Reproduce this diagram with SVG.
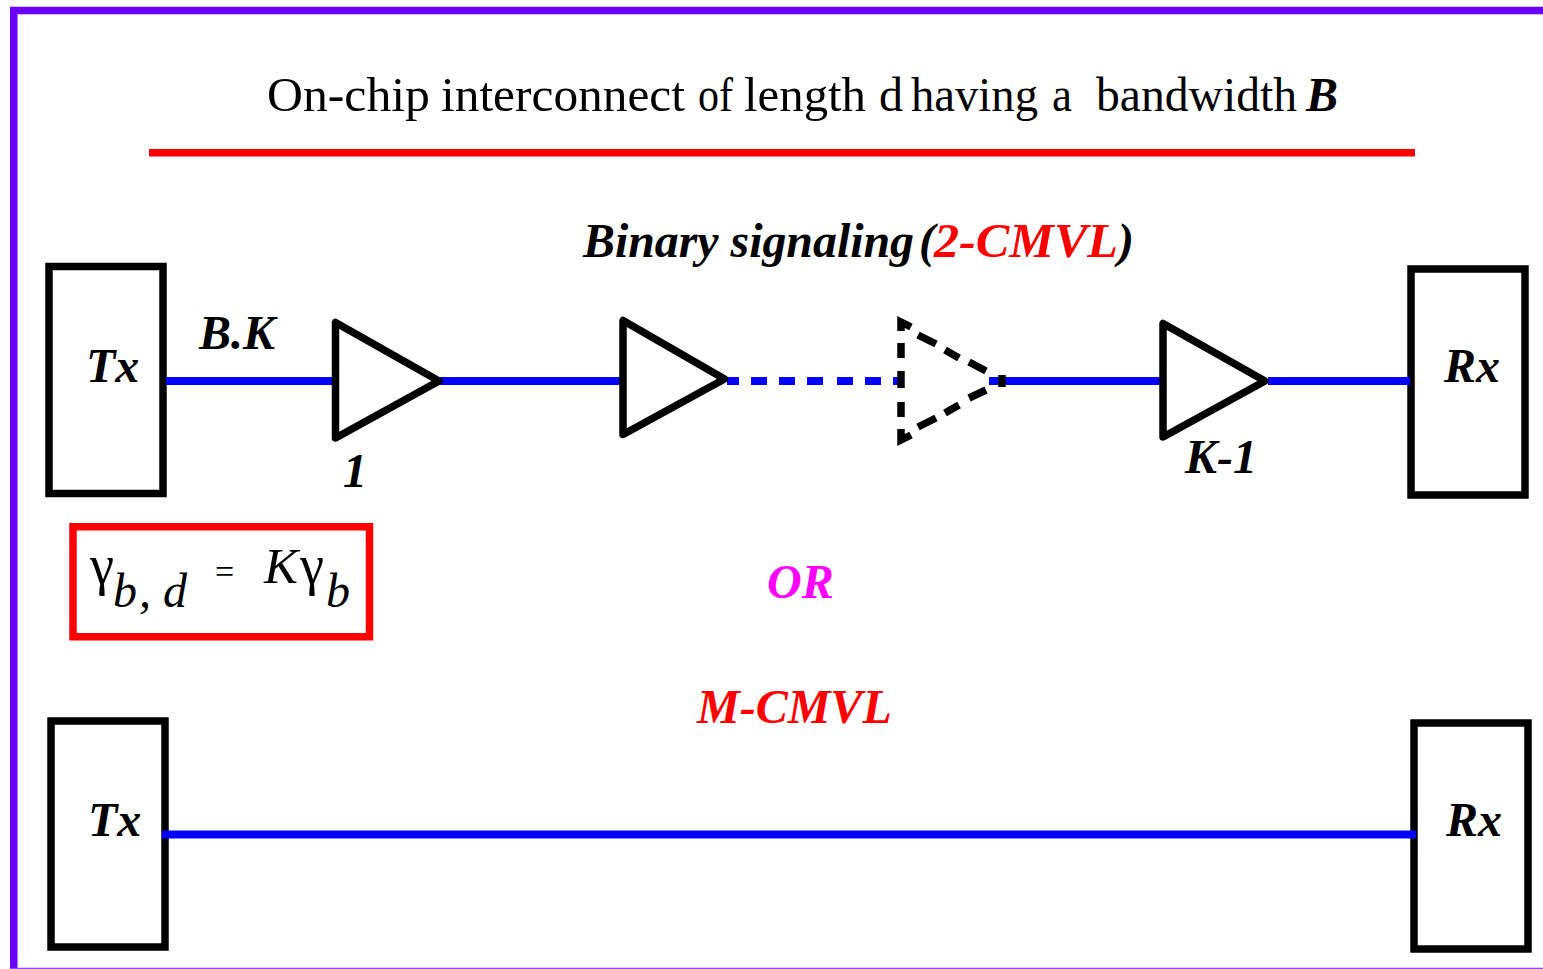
<svg xmlns="http://www.w3.org/2000/svg" width="1543" height="969" viewBox="0 0 1543 969">
<style>
.box{fill:none;stroke:#000;stroke-width:7.500}
.tri{fill:none;stroke:#000;stroke-width:7.500;stroke-linejoin:round}
.dash{fill:none;stroke:#000;stroke-width:7.500}
.w{stroke:#0000ff;stroke-width:8;fill:none}
.t{font-family:"Liberation Serif",serif;font-size:48px;fill:#000}
.b{font-family:"Liberation Serif",serif;font-size:48px;font-style:italic;font-weight:bold;fill:#000}
.e{font-family:"Liberation Serif",serif;font-size:48px;fill:#000}
.g{font-size:56px}
.i{font-style:italic}
.r{fill:#ff0000}
</style>
<rect width="1543" height="969" fill="#fff"/>
<path d="M1543 10.500H13.750V969" fill="none" stroke="#6a00ff" stroke-width="7.500"/>
<path d="M10 968.500H1543" stroke="#8f45ff" stroke-width="1.500"/>
<g id="title">
<text class="t" x="267" y="111" textLength="163" lengthAdjust="spacingAndGlyphs">On-chip</text>
<text class="t" x="441" y="111" textLength="244" lengthAdjust="spacingAndGlyphs">interconnect</text>
<text class="t" x="698" y="111" textLength="35" lengthAdjust="spacingAndGlyphs">of</text>
<text class="t" x="744" y="111" textLength="122" lengthAdjust="spacingAndGlyphs">length</text>
<text class="t" x="879" y="111" textLength="24" lengthAdjust="spacingAndGlyphs">d</text>
<text class="t" x="911" y="111" textLength="127" lengthAdjust="spacingAndGlyphs">having</text>
<text class="t" x="1052" y="111" textLength="20" lengthAdjust="spacingAndGlyphs">a</text>
<text class="t" x="1096" y="111" textLength="201" lengthAdjust="spacingAndGlyphs">bandwidth</text>
<text class="b" x="1306" y="111">B</text>
<rect x="149" y="149" width="1266" height="7.500" fill="#ff0000"/></g>
<g id="tx1"><rect class="box" x="49" y="266.500" width="114" height="227"/><text class="b" x="86" y="382">Tx</text></g>
<g id="rx1"><rect class="box" x="1411" y="269" width="114" height="226"/><text class="b" x="1444" y="382">Rx</text></g>
<g id="tx2"><rect class="box" x="51" y="721" width="114" height="226"/><text class="b" x="88" y="836">Tx</text></g>
<g id="rx2"><rect class="box" x="1414" y="723" width="114" height="226"/><text class="b" x="1446" y="836">Rx</text></g>
<g id="connectors">
<path class="w" d="M166 381H333M440 381H620M989 381H1162M1268 381H1410M162 834.500H1416"/>
<path class="w" d="M727 381H739M751 381H767M779 381H795M807 381H823M837 381H853M865 381H881M893 381H898"/>
</g>
<g id="buf1"><path class="tri" d="M335.500 322.500V438L439 381Z"/><text class="b" x="343" y="487">1</text></g>
<g id="buf2"><path class="tri" d="M623 320.500V434.500L724.500 379Z"/></g>
<g id="buf3"><path class="dash" d="M901 331V322L911 327M901 343V358M901 371V388M901 402V417M901 429V440L911 435M918 335L936 344M945 350L959 358M969 362L986 371M969 398L986 390M945 413L959 405M918 427L936 418M1002 375V387"/></g>
<g id="buf4"><path class="tri" d="M1163 323.500V437L1265 381Z"/><text class="b" x="1185" y="473">K-1</text></g>
<text class="b" x="199" y="349">B.K</text>
<text class="b" x="583" y="257" textLength="331" lengthAdjust="spacingAndGlyphs">Binary signaling</text>
<text class="b" x="919" y="257">(</text>
<text class="b r" x="934" y="257" textLength="184" lengthAdjust="spacingAndGlyphs" style="fill:#ff0000">2-CMVL</text>
<text class="b" x="1118" y="257">)</text>
<g id="eq"><rect x="73" y="526.750" width="296.500" height="110" fill="none" stroke="#ff0000" stroke-width="7.500"/>
<text class="e g" x="90" y="584" textLength="24" lengthAdjust="spacingAndGlyphs">γ</text>
<text class="e i" x="113" y="607">b</text>
<text class="e i" x="139" y="607">,</text>
<text class="e i" x="163" y="607">d</text>
<text class="e" x="215" y="583" style="font-size:34px">=</text>
<text class="e i" x="264" y="583" style="font-size:51px">K</text>
<text class="e g" x="300" y="584" textLength="24" lengthAdjust="spacingAndGlyphs">γ</text>
<text class="e i" x="326" y="607">b</text></g>
<text class="b" x="767" y="598" style="fill:#ff00ff">OR</text>
<text class="b r" x="697" y="723" style="fill:#ff0000">M-CMVL</text>
</svg>
